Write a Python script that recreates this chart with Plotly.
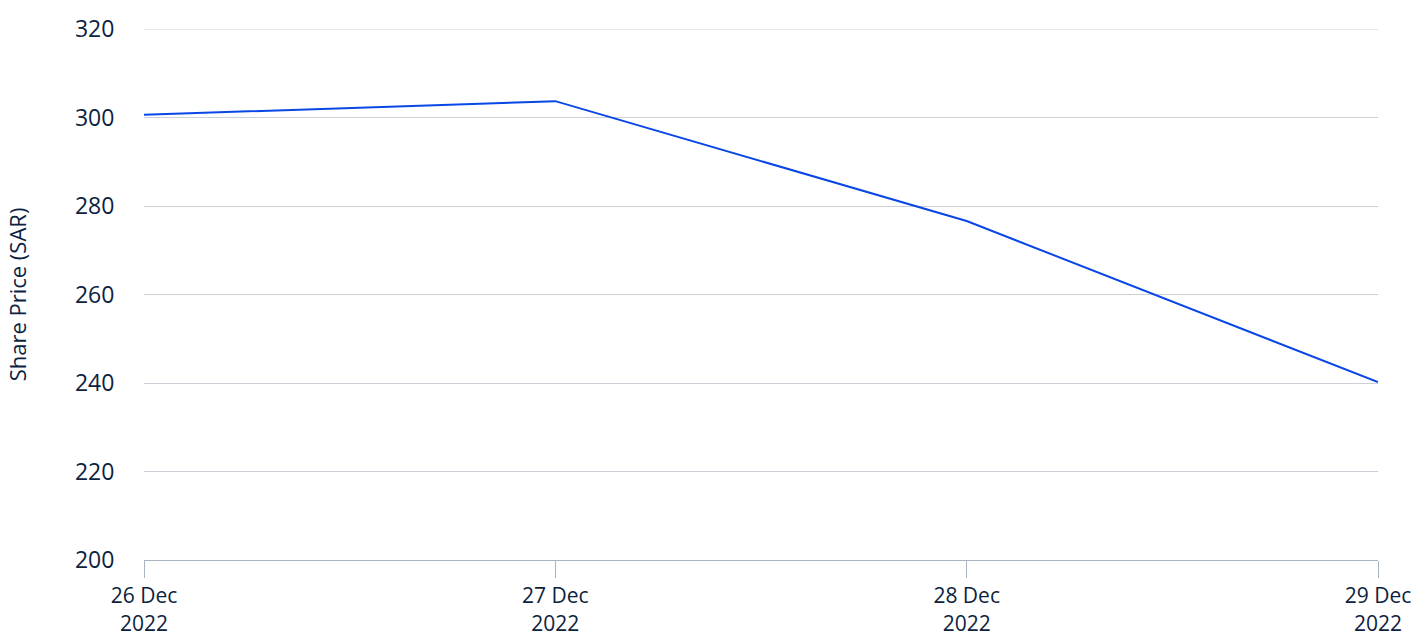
import plotly.graph_objects as go

dates = ["26 Dec<br>2022", "27 Dec<br>2022", "28 Dec<br>2022", "29 Dec<br>2022"]
prices = [300.6, 303.7, 276.6, 240.2]
y_ticks = [200, 220, 240, 260, 280, 300, 320]

font_family = "'Open Sans', 'Noto Sans', sans-serif"
text_color = "#0c2340"

fig = go.Figure()
fig.add_trace(go.Scatter(
    x=list(range(len(dates))), y=prices, mode="lines",
    line=dict(color="#0a46e6", width=2), hoverinfo="skip",
))
# top gridline (plotly hides gridlines lying on the plot edge)
fig.add_hline(y=y_ticks[-1], line=dict(color="#cbd0d6", width=1), layer="below")

fig.update_layout(
    width=1422, height=639,
    margin=dict(l=144, r=44, t=29, b=79),
    paper_bgcolor="white", plot_bgcolor="white",
    showlegend=False,
    font=dict(family=font_family, color=text_color, size=23),
    xaxis=dict(
        range=[0, 3], tickmode="array", tickvals=list(range(len(dates))), ticktext=dates,
        showgrid=False, zeroline=False, showline=True, linecolor="#a9b4c0", linewidth=1,
        ticks="outside", ticklen=17, tickcolor="#a9b4c0", tickwidth=1,
        tickfont=dict(size=21, color=text_color), automargin=False,
    ),
    yaxis=dict(
        range=[200, 320], tickmode="array", tickvals=y_ticks,
        showgrid=True, gridcolor="#cbd0d6", gridwidth=1, zeroline=False, showline=False,
        ticks="outside", ticklen=24, tickcolor="rgba(0,0,0,0)",
        tickfont=dict(size=23, color=text_color), automargin=False,
        title=dict(text="Share Price (SAR)", font=dict(size=22, color=text_color), standoff=42),
    ),
)

fig.write_html("out.html", config={"displayModeBar": False},
               post_script="document.body.style.margin='0px';")
